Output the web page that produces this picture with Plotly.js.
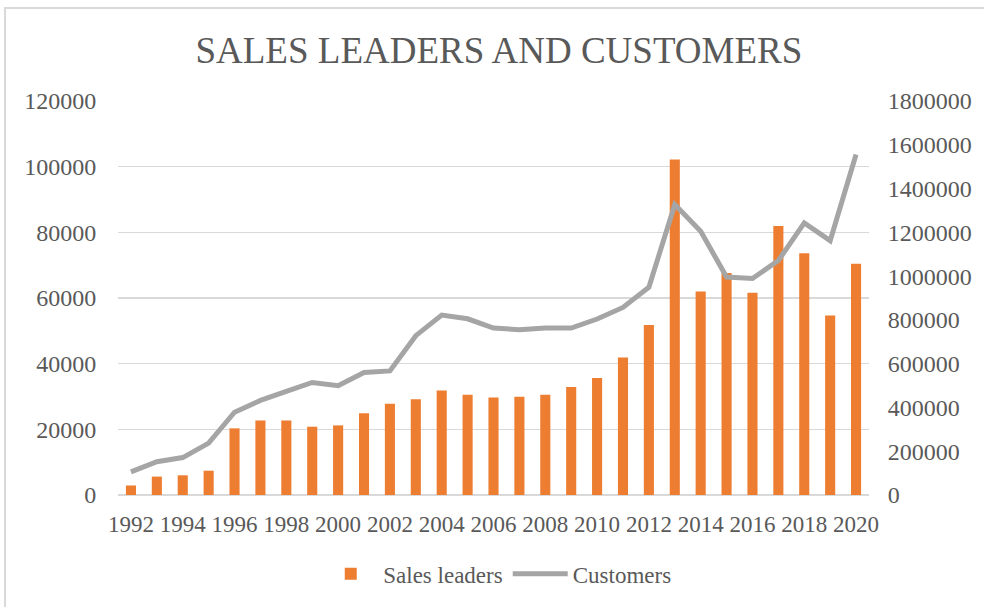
<!DOCTYPE html>
<html>
<head>
<meta charset="utf-8">
<script src="https://cdn.plot.ly/plotly-3.0.1.min.js"></script>
<style>
  body { margin: 0; padding: 0; background: #ffffff; }
  #wrap { position: relative; width: 984px; height: 607px; overflow: hidden; }
  #chart { position: absolute; left: 0; top: 0; width: 984px; height: 607px; }
  #frame { position: absolute; left: 4px; top: 7px; width: 990px; height: 610px;
           border-left: 2px solid #d9d9d9; border-top: 2px solid #d9d9d9; pointer-events: none; }
</style>
</head>
<body>
<div id="wrap">
  <div id="chart"></div>
  <div id="frame"></div>
</div>
<script>
const years = [1992,1993,1994,1995,1996,1997,1998,1999,2000,2001,2002,2003,2004,2005,2006,
               2007,2008,2009,2010,2011,2012,2013,2014,2015,2016,2017,2018,2019,2020];
const salesLeaders = [2900,5600,6000,7400,20300,22700,22700,20800,21200,24900,27800,29200,31800,30500,29700,
                      29900,30500,32900,35600,41900,51800,102200,62000,67600,61600,81900,73600,54700,70400];
const customers = [106000,152000,171000,237000,378000,432000,473000,514000,499000,560000,567000,728000,822000,805000,763000,
                   755000,763000,763000,804000,857000,949000,1327000,1205000,996000,989000,1071000,1243000,1162000,1556000];
const titleText = "SALES LEADERS AND CUSTOMERS";

const fontFam = "Liberation Serif, Times New Roman, serif";
const textCol = "#595959";

const traces = [
  {
    type: "bar", name: "Sales leaders", x: years, y: salesLeaders,
    marker: { color: "#ed7d31" }, width: 0.39, yaxis: "y"
  },
  {
    type: "scatter", mode: "lines", name: "Customers", x: years, y: customers,
    line: { color: "#a5a5a5", width: 5 }, yaxis: "y2"
  }
];

const layout = {
  width: 984, height: 607,
  paper_bgcolor: "#ffffff", plot_bgcolor: "#ffffff",
  margin: { l: 118, r: 115, t: 101, b: 112 },
  font: { family: fontFam, color: textCol, size: 23 },
  title: { text: titleText, font: { family: fontFam, size: 37, color: textCol },
           x: 0.507, xanchor: "center", y: 0.918, yanchor: "middle" },
  showlegend: true,
  legend: { orientation: "h", x: 0.505, xanchor: "center", y: -0.2, yanchor: "middle",
            font: { family: fontFam, size: 23, color: textCol }, itemwidth: 55 },
  xaxis: {
    range: [1991.5, 2020.5], tick0: 1992, dtick: 2, tickformat: "d",
    showgrid: false, zeroline: false, showline: false,
    ticks: "outside", ticklen: 8, tickcolor: "rgba(0,0,0,0)",
    tickfont: { family: fontFam, size: 23, color: textCol }
  },
  yaxis: {
    range: [0, 120000], dtick: 20000, tickformat: "d",
    showgrid: true, gridcolor: "#d9d9d9", gridwidth: 1.5,
    zeroline: true, zerolinecolor: "#d9d9d9", zerolinewidth: 1.5, showline: false,
    ticks: "outside", ticklen: 16, tickcolor: "rgba(0,0,0,0)",
    tickfont: { family: fontFam, size: 24, color: textCol }
  },
  yaxis2: {
    range: [0, 1800000], dtick: 200000, tickformat: "d",
    overlaying: "y", side: "right",
    showgrid: false, zeroline: false, showline: false,
    ticks: "outside", ticklen: 13, tickcolor: "rgba(0,0,0,0)",
    tickfont: { family: fontFam, size: 24, color: textCol }
  },
  bargap: 0.61
};

Plotly.newPlot("chart", traces, layout, { displayModeBar: false, staticPlot: true });
</script>
</body>
</html>
